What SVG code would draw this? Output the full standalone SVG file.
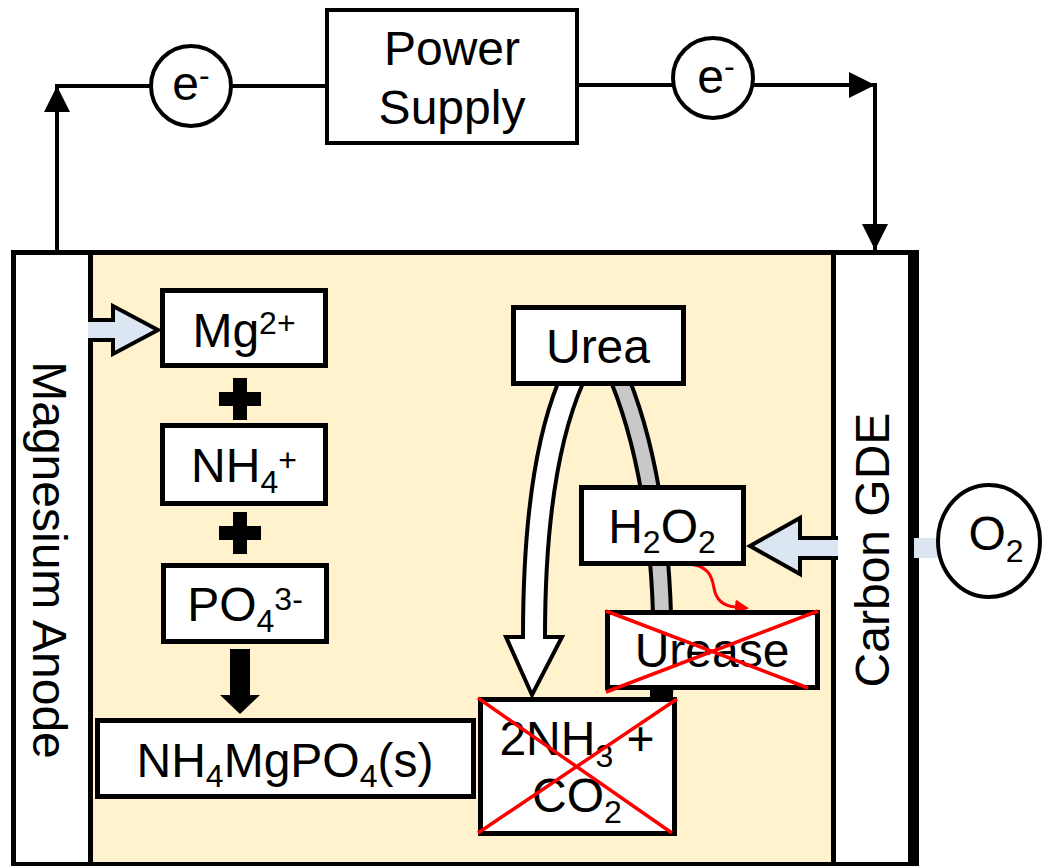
<svg xmlns="http://www.w3.org/2000/svg" width="1043" height="866" viewBox="0 0 1043 866">
<defs>
<style>
.t{font-family:"Liberation Sans",Arial,sans-serif;font-size:48px;fill:#000;text-anchor:middle}
.s{font-size:32px}
.box{fill:#fff;stroke:#000;stroke-width:5}
.wire{fill:none;stroke:#000;stroke-width:4}
.xr{stroke:#ff0000;stroke-width:3.5;fill:none}
.blue{fill:#dce6f2;stroke:#000;stroke-width:4;stroke-linejoin:miter}
</style>
<marker id="ah" markerUnits="userSpaceOnUse" markerWidth="27" markerHeight="27" refX="26" refY="13" orient="auto" viewBox="0 0 27 27"><path d="M0,0 L26,13 L0,26 z" fill="#000"/></marker>
<marker id="rh" markerUnits="userSpaceOnUse" markerWidth="15" markerHeight="15" refX="0" refY="7.5" orient="auto" viewBox="0 0 15 15"><path d="M0,0 L14,7.5 L0,15 z" fill="#ff0000"/></marker>
</defs>
<g id="cell">
<rect x="13.5" y="252.5" width="903" height="612" fill="#fff2cc" stroke="#000" stroke-width="5"/>
</g>
<g id="anode">
<rect x="13.5" y="252.5" width="77" height="612" fill="#fff" stroke="#000" stroke-width="5"/>
<text class="t" transform="translate(33,560) rotate(90)">Magnesium Anode</text>
</g>
<g id="gde">
<rect x="833.5" y="252.5" width="77" height="612" fill="#fff" stroke="#000" stroke-width="5"/>
<rect x="908" y="250" width="11" height="616" fill="#000"/>
<text class="t" transform="translate(889,550) rotate(-90)">Carbon GDE</text>
</g>
<g id="connectors">
<path class="wire" d="M57 252 L57 86" marker-end="url(#ah)"/>
<path class="wire" d="M55 86 L151 86 M231 86 L327 86"/>
<path class="wire" d="M577 85 L673 85 M753 85 L875 85" marker-end="url(#ah)"/>
<path class="wire" d="M875 83 L875 250" marker-end="url(#ah)"/>
<path class="blue" d="M88 320 L113 320 L113 306 L158 330 L113 354 L113 340 L88 340"/>
<path class="blue" d="M838 538 L800 538 L800 518 L750 546 L800 574 L800 558 L838 558"/>
<rect x="914" y="538" width="25" height="20" fill="#dce6f2"/>
<path d="M233 378 h14 v14 h14 v14 h-14 v14 h-14 v-14 h-14 v-14 h14 z" fill="#000"/>
<path d="M233 512 h14 v14 h14 v14 h-14 v14 h-14 v-14 h-14 v-14 h14 z" fill="#000"/>
<polygon points="230,649 250,649 250,695 260,695 240,714 220,695 230,695" fill="#000"/>
<path d="M620 380 Q668 500 662 697" fill="none" stroke="#000" stroke-width="22"/>
<path d="M620 380 Q668 500 662 697" fill="none" stroke="#c8c8c8" stroke-width="14"/>
<rect x="650" y="686" width="23" height="12" fill="#000"/>
<path d="M558 383 Q523 470 523 637 L506 637 L532 695 L562 637 L545 637 Q545 470 583 383 Z" fill="#fff" stroke="#000" stroke-width="4"/>
<path d="M685 564 C708 564 712 576 714 588 C716 600 724 606 735 607" fill="none" stroke="#ff0000" stroke-width="3" marker-end="url(#rh)"/>
</g>
<g id="e1">
<circle cx="191" cy="86" r="40" fill="#fff" stroke="#000" stroke-width="4"/>
<text class="t" x="191" y="100">e<tspan class="s" dy="-14">-</tspan></text>
</g>
<g id="e2">
<circle cx="713" cy="78" r="40" fill="#fff" stroke="#000" stroke-width="4"/>
<text class="t" x="716" y="93">e<tspan class="s" dy="-16">-</tspan></text>
</g>
<g id="power">
<rect x="327" y="10" width="250" height="133" fill="#fff" stroke="#000" stroke-width="4"/>
<text class="t" x="452" y="65">Power</text>
<text class="t" x="452" y="124">Supply</text>
</g>
<g id="mg">
<rect class="box" x="162.5" y="290.5" width="163" height="75"/>
<text class="t" x="244" y="347">Mg<tspan class="s" dy="-13">2+</tspan></text>
</g>
<g id="nh4">
<rect class="box" x="162.5" y="425.5" width="163" height="78"/>
<text class="t" x="244" y="482">NH<tspan class="s" dy="11">4</tspan><tspan class="s" dy="-22">+</tspan></text>
</g>
<g id="po4">
<rect class="box" x="163.5" y="565.5" width="163" height="76"/>
<text class="t" x="245" y="621">PO<tspan class="s" dy="11">4</tspan><tspan class="s" dy="-22">3-</tspan></text>
</g>
<g id="struvite">
<rect class="box" x="97.5" y="720.5" width="376" height="76"/>
<text class="t" x="285" y="777">NH<tspan class="s" dy="10">4</tspan><tspan dy="-10">MgPO</tspan><tspan class="s" dy="10">4</tspan><tspan dy="-10">(s)</tspan></text>
</g>
<g id="urea">
<rect class="box" x="513.5" y="307.5" width="170" height="76"/>
<text class="t" x="598" y="363">Urea</text>
</g>
<g id="h2o2">
<rect class="box" x="581.5" y="487.5" width="162" height="76"/>
<text class="t" x="662" y="543">H<tspan class="s" dy="10">2</tspan><tspan dy="-10">O</tspan><tspan class="s" dy="10">2</tspan></text>
</g>
<g id="urease">
<rect class="box" x="607.5" y="612.5" width="210" height="75"/>
<text class="t" x="712" y="667">Urease</text>
<path class="xr" d="M606 611 L808 688 M606 692 L818 611"/>
</g>
<g id="products">
<rect class="box" x="480.5" y="699.5" width="194" height="134"/>
<text class="t" x="577" y="755">2NH<tspan class="s" dy="12">3</tspan><tspan dy="-12"> +</tspan></text>
<text class="t" x="577" y="812">CO<tspan class="s" dy="11">2</tspan></text>
<path class="xr" d="M478 698 L672 833 M478 833 L677 699"/>
</g>
<g id="o2">
<ellipse cx="989" cy="541" rx="51" ry="56" fill="#fff" stroke="#000" stroke-width="4"/>
<text class="t" x="996" y="550">O<tspan class="s" dy="12">2</tspan></text>
</g>
</svg>
